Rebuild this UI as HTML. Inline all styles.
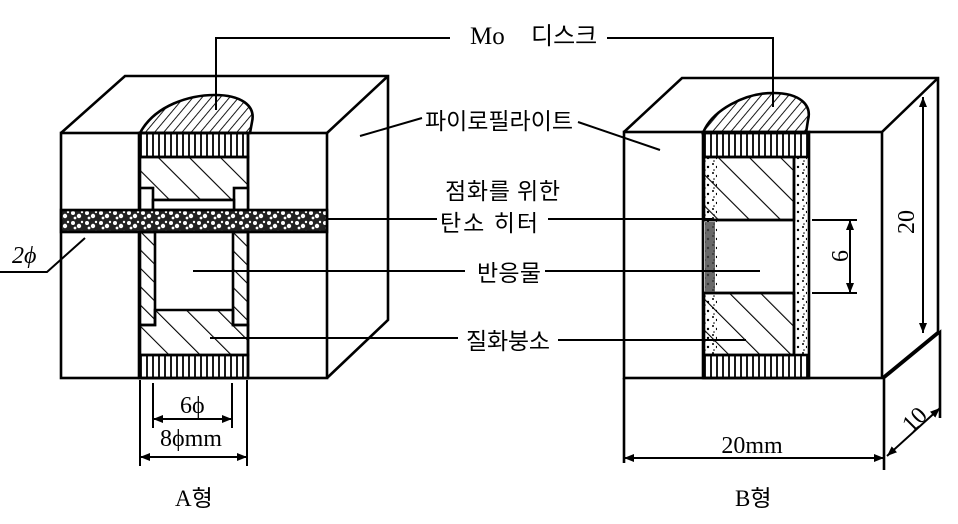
<!DOCTYPE html>
<html><head><meta charset="utf-8"><style>
html,body{margin:0;padding:0;background:#fff;}
svg{display:block;}
text{font-family:"Liberation Serif","Noto Sans CJK KR",serif;fill:#000;}
</style></head><body>
<svg width="958" height="524" viewBox="0 0 958 524" xmlns="http://www.w3.org/2000/svg">
<defs>
<pattern id="diag" width="22" height="22" patternUnits="userSpaceOnUse" patternTransform="rotate(-45)">
<line x1="0" y1="0" x2="0" y2="22" stroke="#000" stroke-width="2.2"/></pattern>
<pattern id="fine" width="7" height="7" patternUnits="userSpaceOnUse" patternTransform="rotate(40)">
<line x1="0" y1="0" x2="0" y2="7" stroke="#000" stroke-width="1.8"/></pattern>
<pattern id="vert" width="6" height="10" patternUnits="userSpaceOnUse">
<line x1="3" y1="0" x2="3" y2="10" stroke="#000" stroke-width="1.8"/></pattern>
<pattern id="wall" width="13" height="13" patternUnits="userSpaceOnUse" patternTransform="rotate(-45)">
<line x1="0" y1="0" x2="0" y2="13" stroke="#000" stroke-width="2.2"/></pattern>
<pattern id="speck" width="14" height="10" patternUnits="userSpaceOnUse">
<rect width="14" height="10" fill="#222"/>
<circle cx="3" cy="3" r="2" fill="#fff"/><circle cx="9" cy="6" r="2.2" fill="#fff"/>
<circle cx="12" cy="2" r="1.2" fill="#fff"/><circle cx="5" cy="8" r="1.4" fill="#fff"/></pattern>
<pattern id="dots" width="9" height="9" patternUnits="userSpaceOnUse">
<circle cx="2" cy="2" r="1" fill="#000"/><circle cx="6" cy="5" r="1.2" fill="#000"/><circle cx="3" cy="8" r="0.8" fill="#000"/></pattern>
<marker id="ar" markerWidth="10" markerHeight="8" refX="10" refY="4" orient="auto-start-reverse" markerUnits="userSpaceOnUse">
<path d="M0,0 L10,4 L0,8 z" fill="#000"/></marker>
</defs>

<g stroke="#000" stroke-width="2.6" fill="none">
<path d="M61,133 L125,76 L388,76 L388,320 L327,378 M327,133 L388,76"/>
<rect x="61" y="133" width="266" height="245" fill="#fff"/>
<rect x="139" y="133" width="109" height="245" fill="#fff"/>
<path d="M140,133 C155,105 190,95 215,95 C240,95 256,105 252,122 L250,133 Z" fill="url(#fine)"/>
<rect x="140" y="133" width="108" height="24" fill="url(#vert)"/>
<rect x="140" y="157" width="108" height="43" fill="url(#diag)"/>
<rect x="140" y="188" width="13" height="22" fill="#fff"/>
<rect x="234" y="188" width="14" height="22" fill="#fff"/>
<rect x="153" y="200" width="81" height="10" fill="#fff"/>
<rect x="140" y="232" width="15" height="93" fill="url(#wall)"/>
<rect x="233" y="232" width="15" height="93" fill="url(#wall)"/>
<path d="M155,310 L233,310 L233,325 L248,325 L248,355 L140,355 L140,325 L155,325 Z" fill="url(#diag)"/>
<rect x="140" y="355" width="108" height="23" fill="url(#vert)"/>
<rect x="61" y="210" width="266" height="22" fill="url(#speck)"/>
</g>
<g stroke="#000" stroke-width="2" fill="none">
<path d="M153,383 V428 M232,383 V428 M140,380 V466 M247,380 V466"/>
<line x1="153" y1="419" x2="232" y2="419" marker-start="url(#ar)" marker-end="url(#ar)"/>
<line x1="140" y1="457" x2="247" y2="457" marker-start="url(#ar)" marker-end="url(#ar)"/>
<path d="M0,272 L47,272 L85,238"/>
</g>
<text x="12" y="263" font-size="24" font-style="italic">2ϕ</text>
<text x="180" y="413" font-size="24">6ϕ</text>
<text x="160" y="446" font-size="24">8ϕmm</text>

<g stroke="#000" stroke-width="2.6" fill="none">
<path d="M624,132 L682,78 L938,78 L938,332 L882,378 M882,132 L938,78"/>
<rect x="624" y="132" width="258" height="246" fill="#fff"/>
<path d="M624,378 V463 M884,378 V470 M884,378 L940,332 L940,418"/>
<rect x="703" y="132" width="106" height="246" fill="#fff"/>
<path d="M703,133 C712,110 745,93 773,93 C800,93 812,105 808,120 L806,133 Z" fill="url(#fine)"/>
<rect x="704" y="133" width="104" height="24" fill="url(#vert)"/>
<rect x="704" y="157" width="90" height="63" fill="url(#diag)"/>
<rect x="704" y="293" width="90" height="62" fill="url(#diag)"/>
<rect x="704" y="355" width="104" height="23" fill="url(#vert)"/>
<line x1="704" y1="220" x2="794" y2="220"/><line x1="704" y1="293" x2="794" y2="293"/>
<line x1="794" y1="157" x2="794" y2="355"/>
</g>
<rect x="705" y="157" width="12" height="198" fill="url(#dots)"/>
<rect x="796" y="157" width="11" height="198" fill="url(#dots)"/>
<rect x="705" y="222" width="10" height="70" fill="#444" opacity="0.8"/>
<g stroke="#000" stroke-width="2" fill="none">
<path d="M812,220 H857 M812,293 H857"/>
<line x1="850" y1="220" x2="850" y2="293" marker-start="url(#ar)" marker-end="url(#ar)"/>
<line x1="923" y1="97" x2="923" y2="333" marker-start="url(#ar)" marker-end="url(#ar)"/>
<line x1="624" y1="458" x2="884" y2="458" marker-start="url(#ar)" marker-end="url(#ar)"/>
<line x1="887" y1="456" x2="940" y2="408" marker-start="url(#ar)" marker-end="url(#ar)"/>
</g>
<text x="0" y="0" font-size="24" transform="translate(848,256) rotate(-90)" text-anchor="middle">6</text>
<text x="0" y="0" font-size="24" transform="translate(914,222) rotate(-90)" text-anchor="middle">20</text>
<text x="0" y="0" font-size="24" transform="translate(920,425) rotate(-45)" text-anchor="middle">10</text>
<text x="752" y="453" font-size="24" text-anchor="middle">20mm</text>

<g stroke="#000" stroke-width="2" fill="none">
<path d="M216,110 V38 H450 M607,38 H773 V107"/>
<path d="M360,136 L422,118 M578,122 L660,150"/>
<path d="M327,219 H437 M548,219 H712"/>
<path d="M193,271 H465 M545,271 H760"/>
<path d="M210,338 H458 M558,340 H746"/>
</g>
<g font-size="23">
<text x="470" y="44" font-size="25">Mo</text><text x="531" y="44" font-size="24">디스크</text>
<text x="425" y="129" textLength="148">파이로필라이트</text>
<text x="445" y="199" textLength="115">점화를 위한</text>
<text x="440" y="231" textLength="98">탄소 히터</text>
<text x="477" y="281" textLength="64">반응물</text>
<text x="466" y="349" textLength="84">질화붕소</text>
<text x="175" y="506">A형</text>
<text x="735" y="506">B형</text>
</g>
</svg>
</body></html>
